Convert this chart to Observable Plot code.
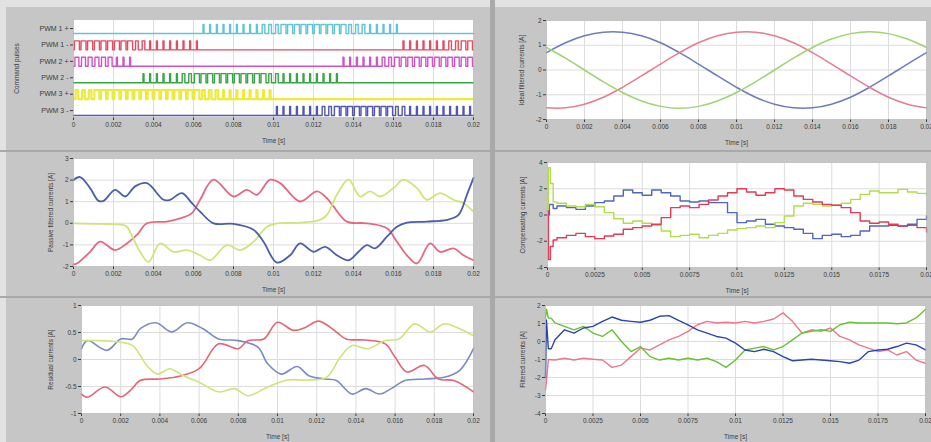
<!DOCTYPE html>
<html><head><meta charset="utf-8">
<script src="https://cdn.jsdelivr.net/npm/d3@7"></script>
<script src="https://cdn.jsdelivr.net/npm/@observablehq/plot@0.6"></script>
<style>
html,body{margin:0;padding:0;}
body{width:931px;height:442px;background:#e2e2e2;position:relative;overflow:hidden;font-family:"Liberation Sans",Arial,sans-serif;}
.panel{position:absolute;background:#c6c6c6;}
.panel svg{position:absolute;left:0;top:0;}
.sep{position:absolute;background:#a9a9a9;}
</style></head><body>
<div id="root"></div>
<script>
// ---------- axis ticks / labels ----------
const xTicks2ms = [0,0.002,0.004,0.006,0.008,0.01,0.012,0.014,0.016,0.018,0.02];
const xLabels2ms = ["0","0.002","0.004","0.006","0.008","0.01","0.012","0.014","0.016","0.018","0.02"];
const xTicks25 = [0,0.0025,0.005,0.0075,0.01,0.0125,0.015,0.0175,0.02];
const xLabels25 = ["0","0.0025","0.005","0.0075","0.01","0.0125","0.015","0.0175","0.02"];

// ---------- PWM command pulses ----------
const pwmRows = ["PWM 1 +","PWM 1 -","PWM 2 +","PWM 2 -","PWM 3 +","PWM 3 -"];
const pwmColors = ["#62c6d2","#e24d63","#cf55c6","#3aa548","#eeea3c","#5555b0"];
const pwmPeriodMs = 0.333;
const carrierMs = [0.17,0.5,0.83,1.17,1.5,1.83,2.17,2.5,2.83,3.17,3.5,3.83,4.17,4.5,4.83,5.17,5.5,5.83,6.17,6.5,
  6.83,7.17,7.5,7.83,8.17,8.5,8.83,9.17,9.5,9.83,10.17,10.5,10.83,11.17,11.5,11.83,12.17,12.5,12.83,13.17,
  13.5,13.83,14.17,14.5,14.83,15.17,15.5,15.83,16.17,16.5,16.83,17.17,17.5,17.83,18.17,18.5,18.83,19.17,19.5,19.83];
// duty (fraction of carrier period) per carrier slot
const dutyPwm1p = [0,0,0,0,0,0,0,0,0,0,0,0,0,0,0,0,0,0,0,.15,.15,.15,.15,.15,.15,.15,.15,.15,.4,.4,.4,.75,.75,.75,.75,.75,.75,.75,.75,.75,.75,.4,.4,.4,.15,.15,.15,.15,.15,0,0,0,0,0,0,0,0,0,0,0];
const dutyPwm1m = [.75,.75,.75,.75,.75,.75,.75,.75,.75,.4,.4,.15,.15,.15,.15,.15,.15,.15,.15,0,0,0,0,0,0,0,0,0,0,0,0,0,0,0,0,0,0,0,0,0,0,0,0,0,0,0,0,0,0,.15,.15,.15,.15,.15,.15,.15,.4,.4,.7,.7];
const dutyPwm2p = [.6,.6,.6,.6,.6,.6,.15,.15,.15,0,0,0,0,0,0,0,0,0,0,0,0,0,0,0,0,0,0,0,0,0,0,0,0,0,0,0,0,0,0,0,.15,.15,.15,.15,.15,.15,.4,.4,.7,.7,.7,.7,.7,.7,.7,.7,.7,.7,.7,.7];
const dutyPwm2m = [0,0,0,0,0,0,0,0,0,0,.15,.15,.15,.15,.15,.15,.4,.4,.75,.75,.75,.75,.75,.75,.75,.75,.75,.75,.75,.4,.4,.15,.15,.15,.15,.15,.15,.15,.15,.15,0,0,0,0,0,0,0,0,0,0,0,0,0,0,0,0,0,0,0,0];
const dutyPwm3p = [.4,.4,.4,.75,.75,.75,.75,.75,.75,.75,.75,.75,.75,.75,.75,.75,.75,.75,.75,.4,.4,.4,.15,.15,.15,.15,.15,.15,.15,.15,0,0,0,0,0,0,0,0,0,0,0,0,0,0,0,0,0,0,0,0,0,0,0,0,0,0,0,0,0,0];
const dutyPwm3m = [0,0,0,0,0,0,0,0,0,0,0,0,0,0,0,0,0,0,0,0,0,0,0,0,0,0,0,0,0,0,.15,.15,.15,.15,.15,.15,.15,.4,.4,.75,.75,.75,.75,.75,.75,.75,.75,.75,.4,.4,.15,.15,.15,.15,.15,.15,.15,.15,.15,.15];
const pwmDuties = [dutyPwm1p,dutyPwm1m,dutyPwm2p,dutyPwm2m,dutyPwm3p,dutyPwm3m];
const pwmBase = [5,4,3,2,1,0];
const pwmHigh = 0.55;

// ---------- ideal filtered currents [ms, A] ----------
const idealBlue = [[0,0.70],[1,1.10],[2,1.38],[3,1.53],[4,1.53],[5,1.38],[6,1.10],[7,0.70],[8,0.24],[9,-0.24],[10,-0.70],[11,-1.10],[12,-1.38],[13,-1.53],[14,-1.53],[15,-1.38],[16,-1.10],[17,-0.70],[18,-0.24],[19,0.24],[20,0.70]];
const idealRed = [[0,-1.53],[1,-1.53],[2,-1.38],[3,-1.10],[4,-0.70],[5,-0.24],[6,0.24],[7,0.70],[8,1.10],[9,1.38],[10,1.53],[11,1.53],[12,1.38],[13,1.10],[14,0.70],[15,0.24],[16,-0.24],[17,-0.70],[18,-1.10],[19,-1.38],[20,-1.53]];
const idealGreen = [[0,0.91],[1,0.48],[2,0],[3,-0.48],[4,-0.91],[5,-1.25],[6,-1.47],[7,-1.55],[8,-1.47],[9,-1.25],[10,-0.91],[11,-0.48],[12,0],[13,0.48],[14,0.91],[15,1.25],[16,1.47],[17,1.55],[18,1.47],[19,1.25],[20,0.91]];

// ---------- passive filtered currents ----------
const passiveBlue = [[0,2.0],[0.33,2.14],[0.83,1.63],[1.25,1.04],[1.5,1.04],[2.08,1.55],[2.58,1.24],[3.08,1.71],[3.67,1.86],[4.5,1.09],[4.83,1.09],[5.42,1.4],[5.92,0.93],[6.33,0.54],[7.0,0.0],[8.0,-0.03],[9.0,-0.3],[9.5,-0.85],[10.17,-1.82],[10.83,-1.48],[11.33,-0.93],[12.0,-1.32],[12.58,-1.09],[13.17,-1.48],[13.75,-1.71],[14.25,-1.32],[14.67,-1.01],[15.08,-1.16],[15.67,-0.62],[16.17,-0.16],[16.67,0.03],[17.67,0.08],[18.67,0.16],[19.25,0.39],[19.67,1.32],[20,2.1]];
const passiveRed = [[0,-1.9],[0.17,-1.86],[0.83,-1.32],[1.33,-0.85],[2.08,-1.24],[2.67,-0.93],[3.17,-0.54],[3.67,0.0],[4.67,0.08],[5.33,0.23],[5.92,0.47],[6.33,1.09],[7.0,2.02],[8.0,1.24],[8.67,1.55],[9.17,1.32],[9.83,2.02],[10.33,1.86],[11.33,1.01],[12.17,1.48],[12.67,1.16],[13.0,0.78],[13.67,0.08],[14.67,0.0],[15.67,-0.23],[16.17,-0.85],[16.67,-1.48],[17.17,-1.86],[17.83,-0.93],[18.33,-1.32],[19.0,-1.16],[19.5,-1.48],[20,-1.71]];
const passiveGreen = [[0,0.0],[1.33,-0.03],[2.5,-0.08],[2.67,-0.16],[3.33,-1.32],[3.75,-1.79],[4.33,-0.93],[5.0,-1.32],[5.67,-1.24],[6.33,-1.48],[6.83,-1.71],[7.67,-1.01],[8.33,-1.24],[9.0,-0.85],[9.67,-0.16],[10.17,0.0],[11.33,0.03],[12.33,0.16],[12.67,0.39],[13.17,1.32],[13.75,2.02],[14.33,1.24],[14.83,1.48],[15.33,1.24],[16.0,1.63],[16.5,2.02],[17.17,1.63],[17.67,1.09],[18.33,1.4],[19.0,1.09],[19.5,0.93],[20,0.54]];

// ---------- compensating currents ----------
const compBlue = [[0,0],[0.1,0.8],[0.3,0.5],[0.5,0.69],[1,0.56],[1.5,0.43],[2,0.69],[2.5,0.94],[3,1.07],[3.5,1.45],[4,1.9],[4.5,1.7],[5,1.5],[5.5,1.9],[6,1.7],[6.5,1.45],[7,1.07],[7.5,0.99],[8,1.07],[8.5,0.94],[9,0.94],[9.5,0.18],[10,-0.58],[10.5,-0.46],[11,-0.33],[11.5,-0.71],[12,-0.84],[12.5,-0.96],[13,-1.09],[13.5,-1.4],[14,-1.8],[14.5,-1.55],[15,-1.47],[15.5,-1.65],[16,-1.55],[16.5,-1.22],[17,-0.84],[17.5,-0.84],[18,-0.79],[18.5,-0.84],[19,-0.71],[19.5,-0.33],[20,-0.08]];
const compRed = [[0,0.3],[0.05,-3.4],[0.15,-2.4],[0.3,-1.9],[0.5,-1.73],[1,-1.55],[1.5,-1.4],[2,-1.65],[2.5,-1.8],[3,-1.6],[3.5,-1.47],[4,-1.09],[4.5,-0.96],[5,-0.84],[5.5,-0.71],[6,-0.2],[6.5,0.56],[7,0.69],[7.5,0.56],[8,0.81],[8.5,1.14],[9,1.45],[9.5,1.7],[10,2.0],[10.5,1.75],[11,1.5],[11.5,1.7],[12,2.0],[12.5,1.9],[13,1.45],[13.5,1.19],[14,0.99],[14.5,0.81],[15,0.74],[15.5,0.56],[16,0.18],[16.5,-0.46],[17,-0.63],[17.5,-0.53],[18,-0.71],[18.5,-0.84],[19,-0.79],[19.5,-0.96],[20,-1.3]];
const compGreen = [[0,0.5],[0.05,3.6],[0.15,2.4],[0.3,1.0],[0.5,0.89],[1,0.69],[1.5,0.63],[2,0.81],[2.5,0.63],[3,0.18],[3.5,-0.28],[4,-0.63],[4.5,-0.46],[5,-0.63],[5.5,-0.79],[6,-1.22],[6.5,-1.65],[7,-1.55],[7.5,-1.47],[8,-1.73],[8.5,-1.55],[9,-1.4],[9.5,-1.14],[10,-1.04],[10.5,-0.96],[11,-0.84],[11.5,-0.96],[12,-0.58],[12.5,-0.08],[13,0.69],[13.5,0.89],[14,0.81],[14.5,0.69],[15,0.74],[15.5,0.89],[16,1.19],[16.5,1.57],[17,1.83],[17.5,1.7],[18,1.7],[18.5,1.95],[19,1.75],[19.5,1.65],[20,1.5]];

// ---------- residual currents ----------
const residualBlue = [[0,0.2],[0.3,0.35],[1.3,0.17],[2,0.38],[2.6,0.38],[3,0.57],[3.8,0.68],[4.6,0.51],[5.4,0.68],[6.2,0.57],[7,0.38],[8,0.35],[9,0.23],[9.5,-0.08],[10.2,-0.27],[11,-0.13],[11.6,-0.3],[12.4,-0.36],[13,-0.39],[13.8,-0.64],[14.5,-0.54],[15.2,-0.64],[15.8,-0.54],[16.5,-0.39],[17.5,-0.36],[18.5,-0.33],[19.3,-0.2],[20,0.2]];
const residualRed = [[0,-0.64],[0.3,-0.7],[1.2,-0.51],[2,-0.69],[2.5,-0.57],[3,-0.39],[4,-0.36],[5,-0.31],[6,-0.17],[7,0.29],[8,0.2],[8.5,0.35],[9.3,0.38],[10,0.69],[10.8,0.54],[11.4,0.59],[12.1,0.71],[13,0.51],[13.5,0.38],[14.5,0.36],[15.5,0.29],[16,0.04],[16.6,-0.23],[17.5,-0.11],[18.2,-0.36],[19,-0.39],[20,-0.6]];
const residualGreen = [[0,0.35],[1,0.35],[2,0.32],[2.6,0.26],[3.4,-0.14],[3.9,-0.27],[4.5,-0.17],[5.2,-0.3],[6,-0.42],[7,-0.6],[7.8,-0.54],[8.5,-0.67],[9.5,-0.51],[10.5,-0.38],[11.5,-0.38],[12.5,-0.33],[13.2,0.04],[13.8,0.26],[14.6,0.2],[15.5,0.35],[16.2,0.38],[17,0.66],[17.8,0.51],[18.5,0.66],[19.3,0.57],[20,0.44]];

// ---------- filtered currents ----------
const filtBlue = [[0,-2],[0.05,1.2],[0.15,-0.4],[0.3,-0.4],[0.5,0.1],[1,0.65],[1.5,0.47],[2,0.75],[2.5,0.84],[3,1.12],[3.5,1.36],[4,1.18],[4.5,1.12],[5,1.07],[5.5,1.18],[6,1.4],[6.5,1.44],[7,1.18],[7.5,0.93],[8,0.65],[8.5,0.47],[9,0.28],[9.5,0.19],[10,-0.09],[10.5,-0.47],[11,-0.56],[11.5,-0.43],[12,-0.56],[12.5,-0.84],[13,-1.07],[13.5,-1.03],[14,-0.99],[14.5,-1.03],[15,-1.07],[15.5,-1.12],[16,-1.21],[16.5,-1.03],[17,-0.56],[17.5,-0.47],[18,-0.43],[18.5,-0.28],[19,-0.09],[19.5,-0.19],[20,-0.47]];
const filtRed = [[0,-2.7],[0.05,-2.2],[0.15,-1.0],[0.5,-1.03],[1,-0.93],[1.5,-1.03],[2,-0.93],[2.5,-0.99],[3,-1.03],[3.5,-1.44],[4,-1.31],[4.5,-0.84],[5,-0.37],[5.5,-0.47],[6,-0.19],[6.5,0.09],[7,0.28],[7.5,0.56],[8,0.93],[8.5,1.12],[9,1.03],[9.5,1.07],[10,1.03],[10.5,1.12],[11,1.03],[11.5,1.12],[12,1.25],[12.5,1.59],[13,1.12],[13.5,0.47],[14,0.65],[14.5,0.56],[15,0.75],[15.5,0.28],[16,0.09],[16.5,-0.19],[17,-0.37],[17.5,-0.56],[18,-0.47],[18.5,-0.75],[19,-0.56],[19.5,-1.03],[20,-1.21]];
const filtGreen = [[0,1.3],[0.05,1.8],[0.15,1.3],[0.3,1.3],[0.5,1.03],[1,0.84],[1.5,0.65],[2,0.84],[2.5,0.47],[3,0.28],[3.5,0.65],[4,0],[4.5,-0.56],[5,-0.28],[5.5,-0.84],[6,-1.03],[6.5,-0.93],[7,-1.03],[7.5,-0.93],[8,-1.03],[8.5,-0.93],[9,-1.12],[9.5,-1.44],[10,-1.03],[10.5,-0.47],[11,-0.37],[11.5,-0.28],[12,-0.47],[12.5,-0.28],[13,0.09],[13.5,0.47],[14,0.56],[14.5,0.65],[15,0.56],[15.5,0.93],[16,1.07],[16.5,1.03],[17,1.03],[17.5,1.03],[18,1.03],[18.5,0.99],[19,1.03],[19.5,1.31],[20,1.78]];

// ---------- rendering ----------
const root = document.getElementById("root");
const FONT = "Liberation Sans, Arial, sans-serif";

function pts(arr) { return arr.map(([ms, v]) => ({t: ms / 1000, v})); }

function addPanel(p) {
  const div = document.createElement("div");
  div.className = "panel";
  Object.assign(div.style, {left: p.left + "px", top: p.top + "px", width: p.w + "px", height: p.h + "px"});
  const xMap = new Map(p.xTicks.map((d, i) => [d, p.xLabels[i]]));
  const yFmt = p.yFormat || (d => String(d));
  const chart = Plot.plot({
    width: p.w, height: p.h,
    marginLeft: p.ml, marginRight: p.mr, marginTop: p.mt, marginBottom: p.mb,
    style: {background: "transparent", fontFamily: FONT, fontSize: "6.5px", color: "#3c3c3c", overflow: "visible"},
    x: {domain: [0, 0.02]},
    y: {domain: p.yDomain},
    marks: [
      Plot.frame({fill: "white", stroke: "none"}),
      Plot.gridX(p.xTicks, {stroke: "#dcdcdc", strokeOpacity: 1}),
      Plot.gridY(p.yGrid || p.yTicks, {stroke: "#dcdcdc", strokeOpacity: 1}),
      Plot.axisX({ticks: p.xTicks, tickFormat: d => xMap.get(d), tickSize: 3, tickPadding: 2, label: null}),
      Plot.axisY({ticks: p.yTicks, tickFormat: yFmt, tickSize: 3, tickPadding: 2, label: null, fontSize: p.yFontSize}),
      Plot.text(["Time [s]"], {frameAnchor: "bottom", textAnchor: "middle", dy: 25, fill: "#3c3c3c", fontSize: 6.5}),
      Plot.text([p.yLabel], {frameAnchor: "left", textAnchor: "middle", rotate: -90, dx: -p.ylOffset, fill: "#3c3c3c", fontSize: 6.5}),
      ...p.marks,
      Plot.frame({stroke: "#b4b4b4", strokeWidth: 0.6})
    ]
  });
  div.appendChild(chart);
  root.appendChild(div);
}

function lines(series, colors, curve, sw) {
  return series.map((s, i) => Plot.line(pts(s), {x: "t", y: "v", stroke: colors[i], strokeWidth: sw, curve}));
}

// PWM pulse lines built from the duty arrays
const pwmMarks = pwmRows.map((row, k) => {
  const b = pwmBase[k], top = b + pwmHigh;
  const path = [{t: 0, v: b}];
  pwmDuties[k].forEach((d, i) => {
    if (d <= 0) return;
    const c = carrierMs[i], hw = d * pwmPeriodMs / 2;
    path.push({t: (c - hw) / 1000, v: b}, {t: (c - hw) / 1000, v: top}, {t: (c + hw) / 1000, v: top}, {t: (c + hw) / 1000, v: b});
  });
  path.push({t: 0.02, v: b});
  return Plot.line(path, {x: "t", y: "v", stroke: pwmColors[k], strokeWidth: k === 4 ? 2.2 : 1.4});
});
const pwmTickVals = pwmBase.map(b => b + 0.3);
const pwmLabelMap = new Map(pwmTickVals.map((v, i) => [v, pwmRows[i]]));

addPanel({left: 6, top: 7, w: 484, h: 143, ml: 67, mr: 17, mt: 12, mb: 33,
  xTicks: xTicks2ms, xLabels: xLabels2ms, yDomain: [-0.12, 5.85], yTicks: pwmTickVals, yGrid: [],
  yFormat: d => pwmLabelMap.get(d), yLabel: "Command pulses", ylOffset: 57, yFontSize: 7,
  marks: pwmMarks});

addPanel({left: 495, top: 7, w: 436, h: 143, ml: 51, mr: 5, mt: 13, mb: 31,
  xTicks: xTicks2ms, xLabels: xLabels2ms, yDomain: [-2, 2], yTicks: [-2,-1,0,1,2],
  yLabel: "Ideal filtered currents [A]", ylOffset: 25,
  marks: lines([idealBlue, idealRed, idealGreen], ["#6f7cbc", "#e57d93", "#9fd472"], "catmull-rom", 1.5)});

addPanel({left: 6, top: 152, w: 484, h: 144, ml: 67, mr: 17, mt: 6, mb: 30,
  xTicks: xTicks2ms, xLabels: xLabels2ms, yDomain: [-2, 3], yTicks: [-2,-1,0,1,2,3],
  yLabel: "Passive filtered currents [A]", ylOffset: 23,
  marks: lines([passiveRed, passiveGreen, passiveBlue], ["#e46a84", "#cde57a", "#4d5ea8"], "catmull-rom", 1.8)});

addPanel({left: 495, top: 152, w: 436, h: 144, ml: 52, mr: 5, mt: 10, mb: 29,
  xTicks: xTicks25, xLabels: xLabels25, yDomain: [-4, 4], yTicks: [-4,-2,0,2,4],
  yLabel: "Compensating currents [A]", ylOffset: 25,
  marks: lines([compBlue, compGreen, compRed], ["#5066c0", "#b4dc4a", "#e53a56"], "step-after", 1.4)});

addPanel({left: 6, top: 298, w: 484, h: 144, ml: 75, mr: 17, mt: 7, mb: 29,
  xTicks: xTicks2ms, xLabels: xLabels2ms, yDomain: [-1, 1], yTicks: [-1,-0.5,0,0.5,1],
  yLabel: "Residual currents [A]", ylOffset: 31,
  marks: lines([residualBlue, residualRed, residualGreen], ["#7d8ac4", "#e4667a", "#cde57a"], "catmull-rom", 1.6)});

addPanel({left: 495, top: 298, w: 436, h: 144, ml: 50, mr: 6, mt: 7, mb: 29,
  xTicks: xTicks25, xLabels: xLabels25, yDomain: [-4, 2], yTicks: [-4,-3,-2,-1,0,1,2],
  yLabel: "Filtered currents [A]", ylOffset: 23,
  marks: lines([filtRed, filtGreen, filtBlue], ["#e8788c", "#64c234", "#2d44ae"], "linear", 1.4)});

// frame separators
[[490,0,5,442],[0,150,490,2],[495,150,436,2],[0,296,490,2],[495,296,436,2]].forEach(([l,t,w,h]) => {
  const s = document.createElement("div"); s.className = "sep";
  Object.assign(s.style, {left: l + "px", top: t + "px", width: w + "px", height: h + "px"});
  root.appendChild(s);
});
</script>
</body></html>
